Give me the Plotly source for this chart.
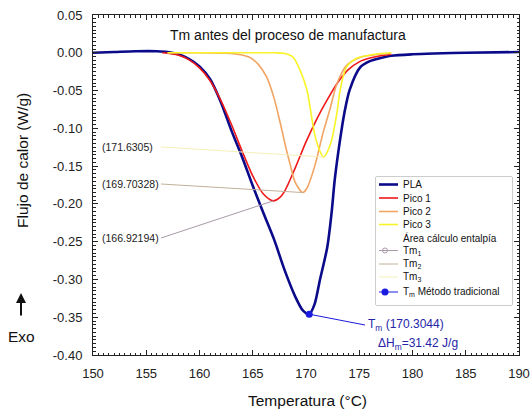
import plotly.graph_objects as go

# ---------------- data ----------------
pla_T = [150, 152, 154, 156, 157, 158, 159, 160, 161, 162, 163, 164, 165, 166, 167, 168, 169,
         169.7, 170.3, 170.8, 171.3, 172.0, 172.4, 172.7, 173.2, 173.6, 174.1, 175.1, 176, 177,
         178, 180, 182, 185, 190]
pla_y = [0.000, 0.001, 0.002, 0.002, 0.001, -0.002, -0.008, -0.018, -0.035, -0.065, -0.103,
         -0.138, -0.176, -0.212, -0.247, -0.288, -0.323, -0.341, -0.346, -0.333, -0.301, -0.257,
         -0.212, -0.168, -0.115, -0.080, -0.049, -0.019, -0.011, -0.007, -0.004, -0.002, -0.001,
         0.000, 0.001]

p1_T = [156.5, 158, 159, 160, 161, 162, 163, 164, 165, 166, 166.92, 167.5, 168, 169, 170, 171,
        172, 173, 174, 175, 176, 177, 178]
p1_y = [0.000, -0.003, -0.009, -0.020, -0.037, -0.063, -0.095, -0.130, -0.163, -0.187, -0.196,
        -0.192, -0.183, -0.152, -0.118, -0.088, -0.062, -0.039, -0.022, -0.012, -0.007, -0.004,
        -0.002]

p2_T = [157, 160, 163, 164, 164.7, 165.5, 166.3, 167, 167.6, 168.1, 168.5, 169, 169.7, 170.1,
        170.8, 171.6, 172.3, 172.9, 173.8, 175.1, 176.9, 178]
p2_y = [0.000, 0.000, -0.001, -0.003, -0.006, -0.015, -0.032, -0.060, -0.094, -0.125, -0.147,
        -0.172, -0.185, -0.179, -0.151, -0.106, -0.072, -0.041, -0.017, -0.006, -0.002, -0.001]

p3_T = [157, 160, 164, 167, 168, 168.8, 169.5, 170.1, 170.8, 171.3, 171.63, 172.0, 172.4, 172.9,
        173.2, 173.8, 174.8, 176, 177, 178]
p3_y = [0.000, 0.000, 0.000, 0.000, -0.001, -0.006, -0.025, -0.050, -0.107, -0.130, -0.138,
        -0.131, -0.116, -0.080, -0.050, -0.019, -0.007, -0.003, -0.001, 0.000]

peak_T = [166.92194, 169.70328, 171.6305]
peak_y = [-0.196, -0.185, -0.138]
peak_labels = ["(166.92194)", "(169.70328)", "(171.6305)"]

tm_T = 170.3044
tm_y = -0.346
dH_m = 31.42

x_ticks = [150, 155, 160, 165, 170, 175, 180, 185, 190]
y_ticks = [0.05, 0.00, -0.05, -0.10, -0.15, -0.20, -0.25, -0.30, -0.35, -0.40]
y_ticktext = ["0.05", "0.00", "-0.05", "-0.10", "-0.15", "-0.20", "-0.25", "-0.30", "-0.35", "-0.40"]

legend_names = ["PLA", "Pico 1", "Pico 2", "Pico 3", "Área cálculo entalpía",
                "Tm<sub>1</sub>", "Tm<sub>2</sub>", "Tm<sub>3</sub>",
                "T<sub>m</sub> Método tradicional"]

# ---------------- styles ----------------
FONT = "Arial, Liberation Sans, sans-serif"
C_PLA = "#0a0a8a"
C_P1 = "#f01818"
C_P2 = "#f2a462"
C_P3 = "#f8f428"
C_TM1 = "#a89aa8"
C_TM2 = "#c0b098"
C_TM3 = "#f4f0b8"
C_TM = "#1a1ae0"
C_TXT = "#2424a8"

# plot area geometry in pixels
W, H = 531, 413
L, R, T, B = 93, 12, 15, 58
PW, PH = W - L - R, H - T - B
XR = [150, 190]
YR = [-0.40, 0.05]


def px2x(px):
    return XR[0] + (px - L) / PW * (XR[1] - XR[0])


def px2y(py):
    return YR[1] - (py - T) / PH * (YR[1] - YR[0])


def pxp(px):
    return (px - L) / PW


def pyp(py):
    return (H - B - py) / PH


fig = go.Figure()

fig.add_trace(go.Scatter(x=pla_T, y=pla_y, mode="lines", line=dict(color=C_PLA, width=2.6, shape="spline", smoothing=0.8)))
fig.add_trace(go.Scatter(x=p1_T, y=p1_y, mode="lines", line=dict(color=C_P1, width=1.6, shape="spline", smoothing=0.8)))
fig.add_trace(go.Scatter(x=p2_T, y=p2_y, mode="lines", line=dict(color=C_P2, width=1.6, shape="spline", smoothing=0.8)))
fig.add_trace(go.Scatter(x=p3_T, y=p3_y, mode="lines", line=dict(color=C_P3, width=1.6, shape="spline", smoothing=0.8)))

# label leader lines to peak minima
label_px_y = [238, 184, 147]
label_line_cols = [C_TM1, C_TM2, C_TM3]
for i in range(3):
    fig.add_trace(go.Scatter(x=[px2x(161), peak_T[i]], y=[px2y(label_px_y[i]), peak_y[i]],
                             mode="lines", line=dict(color=label_line_cols[i], width=1)))
    fig.add_annotation(x=px2x(100), y=px2y(label_px_y[i]), text=peak_labels[i], showarrow=False,
                       xanchor="left", yanchor="middle", font=dict(family=FONT, size=10.5, color="#222"))

# Tm traditional method
fig.add_trace(go.Scatter(x=[tm_T, px2x(365)], y=[tm_y, px2y(325)], mode="lines",
                         line=dict(color=C_TM, width=1)))
fig.add_trace(go.Scatter(x=[tm_T], y=[tm_y], mode="markers",
                         marker=dict(color=C_TM, size=7)))
fig.add_annotation(x=px2x(366), y=px2y(325), text=f"T<sub>m</sub> ({tm_T})", showarrow=False,
                   xanchor="left", yanchor="middle", font=dict(family=FONT, size=12, color=C_TXT))
fig.add_annotation(x=px2x(376), y=px2y(344), text=f"ΔH<sub>m</sub>={dH_m} J/g", showarrow=False,
                   xanchor="left", yanchor="middle", font=dict(family=FONT, size=12, color=C_TXT))

# ---------------- custom legend on hidden axes ----------------
LB = dict(left=376, top=177, right=512, bottom=305)
lw, lh = LB["right"] - LB["left"], LB["bottom"] - LB["top"]
leg_y = [7.5, 21, 34.5, 47.5, 60.5, 73.5, 87, 100, 115]
leg_style = [
    dict(color=C_PLA, width=2.6, marker=None),
    dict(color=C_P1, width=1.6, marker=None),
    dict(color=C_P2, width=1.6, marker=None),
    dict(color=C_P3, width=1.6, marker=None),
    None,
    dict(color=C_TM1, width=1, marker=dict(symbol="circle-open", color=C_TM1, size=5)),
    dict(color=C_TM2, width=1, marker=None),
    dict(color=C_TM3, width=1, marker=None),
    dict(color=C_TM, width=1, marker=dict(symbol="circle", color=C_TM, size=7)),
]
for name, yy, st in zip(legend_names, leg_y, leg_style):
    if st is not None:
        fig.add_trace(go.Scatter(x=[3, 22], y=[yy, yy], mode="lines", xaxis="x2", yaxis="y2",
                                 line=dict(color=st["color"], width=st["width"])))
        if st["marker"] is not None:
            fig.add_trace(go.Scatter(x=[9], y=[yy], mode="markers", xaxis="x2", yaxis="y2",
                                     marker=st["marker"]))
    fig.add_annotation(x=25, y=yy, xref="x2", yref="y2", text=name, showarrow=False,
                       xanchor="left", yanchor="middle", font=dict(family=FONT, size=10, color="#111"))

fig.add_shape(type="rect", xref="paper", yref="paper",
              x0=pxp(LB["left"]), x1=pxp(LB["right"]),
              y0=pyp(LB["bottom"]), y1=pyp(LB["top"]),
              line=dict(color="#9a9a9a", width=1), fillcolor="white", layer="below")

# ---------------- text (explicit centre anchors) ----------------
def paper_text(px, py, text, size, angle=0):
    fig.add_annotation(x=pxp(px), y=pyp(py), xref="paper", yref="paper", text=text,
                       showarrow=False, textangle=angle, xanchor="center", yanchor="middle",
                       font=dict(family=FONT, size=size, color="#111"))


paper_text(288, 35, "Tm antes del proceso de manufactura", 14)
paper_text(22, 161, "Flujo de calor (W/g)", 15.5, -90)
paper_text(307, 400, "Temperatura (°C)", 15.5)
paper_text(21, 336, "Exo", 15.5)
fig.add_annotation(x=pxp(21), y=pyp(293), xref="paper", yref="paper",
                   text="", showarrow=True, ax=0, ay=24, arrowhead=2, arrowsize=1,
                   arrowwidth=2, arrowcolor="#111")

axis_common = dict(showline=True, linecolor="#222", linewidth=1, mirror="allticks",
                   ticks="inside", ticklen=5, tickcolor="#222", showgrid=False, zeroline=False,
                   automargin=False,
                   tickfont=dict(family=FONT, size=13, color="#222"))

fig.update_layout(
    width=W, height=H,
    margin=dict(l=L, r=R, t=T, b=B, autoexpand=False),
    paper_bgcolor="white", plot_bgcolor="white", showlegend=False,
    xaxis=dict(range=XR, tickvals=x_ticks, ticklabelstandoff=6,
               minor=dict(dtick=0.5, ticks="inside", ticklen=2.5, tickcolor="#222"),
               **axis_common),
    yaxis=dict(range=YR, tickvals=y_ticks, ticktext=y_ticktext, ticklabelstandoff=7,
               minor=dict(dtick=0.005, ticks="inside", ticklen=2.5, tickcolor="#222"),
               **axis_common),
    xaxis2=dict(domain=[pxp(LB["left"]), pxp(LB["right"])], range=[0, lw],
                visible=False, anchor="y2", fixedrange=True, automargin=False),
    yaxis2=dict(domain=[pyp(LB["bottom"]), pyp(LB["top"])], range=[lh, 0],
                visible=False, anchor="x2", fixedrange=True, automargin=False),
)

# remove the browser's default 8px page margin so the figure fills the window exactly
fig.write_html("out.html", config={"displayModeBar": False},
               post_script="document.body.style.margin='0';document.body.style.overflow='hidden';")
